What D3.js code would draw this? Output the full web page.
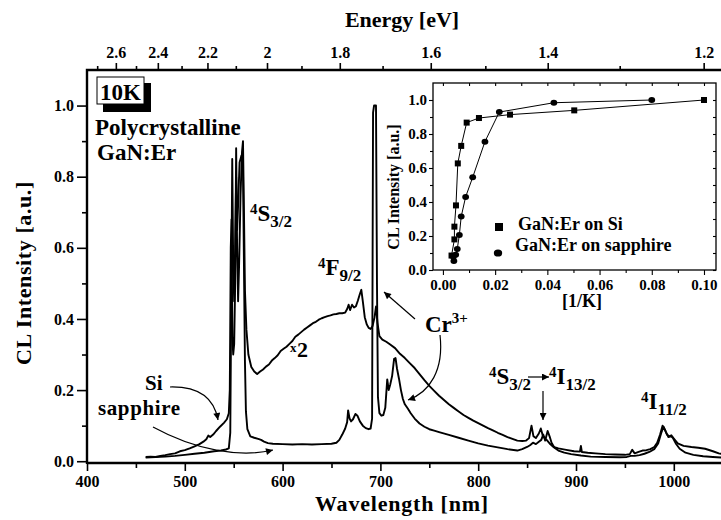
<!DOCTYPE html>
<html>
<head>
<meta charset="utf-8">
<script src="https://cdn.jsdelivr.net/npm/d3@7"></script>
<style>
  body { margin: 0; background: #fff; }
  svg { display: block; background: #fff; }
  svg text { font-family: "Liberation Serif", Tinos, "Times New Roman", "DejaVu Serif", serif; font-weight: 700; fill: #000; }
</style>
</head>
<body>
<svg id="chart" width="721" height="520"></svg>
<script>
'use strict';

// GaN:Er on Si, multiplied x2 (upper trace)
var siWave = [460, 465, 470, 475, 480, 485, 490, 495, 500, 505, 510, 515, 519, 522, 524, 526, 529, 532, 536, 540,
  543, 545, 546, 547, 547.8, 548.6, 549.5, 550.5, 551.5, 552.5, 553.5, 554.5, 555.5, 557, 558.5, 559.5, 560.5, 561.5, 563, 565,
  568, 571, 574, 577, 580, 583, 586, 589, 592, 595, 598, 601, 604, 607, 610, 613, 616, 619, 622, 625,
  628, 631, 634, 637, 640, 643, 646, 649, 652, 655, 658, 661, 664, 666, 667.5, 669, 671, 673, 675, 677,
  679, 680.5, 682, 684, 686, 688, 690, 692, 694, 695.5, 697, 699, 702, 706, 710, 715, 720, 725, 730, 735,
  740, 745, 750, 755, 760, 765, 770, 775, 780, 785, 790, 795, 800, 805, 810, 815, 820, 825, 830, 835,
  840, 845, 849, 852, 854.5, 856.5, 859, 862, 864, 866, 868, 870, 873, 877, 882, 890, 898, 904, 905, 906,
  912, 920, 930, 940, 950, 955, 957.5, 960, 964, 968, 972, 976, 980, 983, 986, 988.5, 991, 993, 995, 997.5,
  1000, 1004, 1010, 1018, 1025, 1032, 1040, 1046, 1050];
var siVal = [0.012, 0.013, 0.012, 0.015, 0.017, 0.020, 0.022, 0.028, 0.031, 0.036, 0.042, 0.048, 0.055, 0.062, 0.072, 0.068, 0.075, 0.085, 0.097, 0.108,
  0.118, 0.135, 0.20, 0.60, 0.68, 0.35, 0.30, 0.33, 0.50, 0.88, 0.60, 0.45, 0.55, 0.75, 0.87, 0.90, 0.70, 0.48, 0.37, 0.30,
  0.265, 0.252, 0.245, 0.252, 0.258, 0.266, 0.272, 0.283, 0.290, 0.298, 0.310, 0.316, 0.322, 0.330, 0.338, 0.350, 0.356, 0.363, 0.370, 0.376,
  0.382, 0.388, 0.392, 0.398, 0.402, 0.405, 0.408, 0.410, 0.413, 0.414, 0.416, 0.416, 0.418, 0.428, 0.440, 0.425, 0.440, 0.432, 0.436, 0.452,
  0.470, 0.482, 0.450, 0.405, 0.385, 0.375, 0.372, 0.380, 0.405, 0.435, 0.390, 0.352, 0.342, 0.336, 0.328, 0.318, 0.302, 0.290, 0.276, 0.262,
  0.245, 0.228, 0.212, 0.198, 0.184, 0.172, 0.160, 0.150, 0.140, 0.130, 0.122, 0.114, 0.107, 0.100, 0.093, 0.087, 0.080, 0.074, 0.068, 0.063,
  0.058, 0.057, 0.058, 0.065, 0.100, 0.070, 0.065, 0.078, 0.092, 0.072, 0.065, 0.060, 0.050, 0.040, 0.036, 0.032, 0.028, 0.027, 0.043, 0.026,
  0.024, 0.022, 0.020, 0.019, 0.018, 0.020, 0.032, 0.022, 0.026, 0.030, 0.031, 0.034, 0.040, 0.052, 0.075, 0.100, 0.088, 0.075, 0.070, 0.073,
  0.064, 0.050, 0.043, 0.040, 0.038, 0.035, 0.028, 0.022, 0.020];

// GaN:Er on sapphire (lower trace, with the Cr3+ ruby line)
var sapWave = [460, 470, 480, 490, 500, 510, 520, 530, 537, 542, 545, 546.5, 547.5, 548.5, 549.5, 550.5, 551.5, 552.5, 553.5, 554.5,
  556, 558, 559.5, 560.5, 561.5, 562.5, 564, 567, 571, 575, 578, 581, 585, 590, 600, 610, 620, 630, 640, 650,
  655, 658, 661, 664, 666, 667, 668.5, 670, 672, 674.5, 676.5, 679, 682, 685, 688, 690, 691.5, 692.5, 693.5, 695.5,
  696.5, 697.5, 699, 701, 703, 705, 707, 708.5, 710, 712, 714, 715.5, 717, 719, 721, 723, 725, 728, 731, 735,
  740, 745, 750, 755, 760, 770, 780, 790, 800, 810, 820, 830, 840, 845, 850, 853, 856, 859, 862, 864.5,
  866.5, 868.5, 871, 873, 875, 878, 882, 888, 895, 905, 915, 930, 945, 952, 956, 960, 965, 970, 975, 980,
  984, 987, 989.5, 992, 994.5, 997, 999, 1002, 1006, 1012, 1020, 1030, 1040, 1050];
var sapVal = [0.010, 0.012, 0.013, 0.015, 0.018, 0.021, 0.024, 0.028, 0.030, 0.033, 0.036, 0.08, 0.45, 0.85, 0.55, 0.45, 0.60, 0.80, 0.65, 0.72,
  0.84, 0.86, 0.82, 0.55, 0.28, 0.14, 0.090, 0.070, 0.066, 0.063, 0.060, 0.055, 0.051, 0.049, 0.048, 0.047, 0.048, 0.047, 0.048, 0.049,
  0.052, 0.060, 0.075, 0.092, 0.110, 0.143, 0.120, 0.112, 0.118, 0.133, 0.128, 0.112, 0.100, 0.093, 0.090, 0.092, 0.120, 0.98, 1.0, 1.0,
  0.50, 0.18, 0.135, 0.128, 0.130, 0.150, 0.230, 0.200, 0.215, 0.240, 0.288, 0.290, 0.260, 0.232, 0.200, 0.175, 0.160, 0.148, 0.135, 0.120,
  0.106, 0.097, 0.090, 0.086, 0.082, 0.074, 0.066, 0.058, 0.050, 0.044, 0.039, 0.034, 0.030, 0.034, 0.040, 0.045, 0.052, 0.048, 0.055, 0.060,
  0.075, 0.058, 0.085, 0.070, 0.052, 0.038, 0.030, 0.024, 0.020, 0.016, 0.013, 0.012, 0.011, 0.012, 0.015, 0.015, 0.017, 0.021, 0.026, 0.034,
  0.050, 0.078, 0.097, 0.082, 0.068, 0.070, 0.066, 0.050, 0.035, 0.024, 0.018, 0.014, 0.012, 0.010];

var wlMajor = [400, 500, 600, 700, 800, 900, 1000];
var wlMinor = [450, 550, 650, 750, 850, 950];
var intMajor = [0, 0.2, 0.4, 0.6, 0.8, 1.0];
var intMinor = [0.1, 0.3, 0.5, 0.7, 0.9];
var evMajor = [2.6, 2.4, 2.2, 2, 1.8, 1.6, 1.4, 1.2];
var evMinor = [2.7, 2.5, 2.3, 2.1, 1.9, 1.7, 1.5, 1.3];

// inset: normalized intensity vs 1/T
var insetSiX = [0.0033, 0.0044, 0.0044, 0.0050, 0.0057, 0.0070, 0.0091, 0.0138, 0.0257, 0.0503, 0.1];
var insetSiY = [0.085, 0.18, 0.255, 0.38, 0.627, 0.73, 0.867, 0.894, 0.914, 0.939, 1.0];
var insetSapX = [0.0042, 0.0040, 0.0049, 0.0055, 0.0063, 0.0070, 0.0087, 0.0114, 0.0161, 0.0216, 0.0425, 0.08];
var insetSapY = [0.053, 0.078, 0.09, 0.124, 0.206, 0.314, 0.43, 0.545, 0.755, 0.929, 0.984, 1.0];
var insetXMajor = [0, 0.02, 0.04, 0.06, 0.08, 0.1];
var insetXMinor = [0.01, 0.03, 0.05, 0.07, 0.09];
var insetYMajor = [0, 0.2, 0.4, 0.6, 0.8, 1.0];
var insetYMinor = [0.1, 0.3, 0.5, 0.7, 0.9];

var mLeft = 87, mRight = 721, mTop = 70, mBottom = 463;
var serif = '"Liberation Serif", Tinos, "Times New Roman", "DejaVu Serif", serif';

var svg = d3.select('#chart').attr('font-family', serif).attr('font-weight', 'bold');

var x = d3.scaleLinear().domain([400, 1050]).range([mLeft, 722.7]);
var y = d3.scaleLinear().domain([-0.005, 1.1]).range([mBottom, mTop]);
// top axis drawn against inverse energy
var xInvE = d3.scaleLinear().domain([1 / 2.7, 1 / 1.2]).range([-388 + 1310 / 2.7, -388 + 1310 / 1.2]);

var defs = svg.append('defs');
defs.append('clipPath').attr('id', 'plotClip')
  .append('rect').attr('x', mLeft).attr('y', mTop).attr('width', mRight - mLeft).attr('height', mBottom - mTop);
defs.append('marker')
  .attr('id', 'head')
  .attr('viewBox', '0 0 10 10')
  .attr('refX', 10).attr('refY', 5)
  .attr('markerWidth', 9).attr('markerHeight', 7)
  .attr('markerUnits', 'userSpaceOnUse')
  .attr('orient', 'auto')
  .append('path').attr('d', 'M0,0 L10,5 L0,10 Z').attr('fill', '#000');

function styleAxis(g, size) {
  g.select('.domain').remove();
  g.attr('font-family', serif).attr('font-size', null);
  g.selectAll('line').attr('stroke', '#000').attr('stroke-width', 1.6);
  g.selectAll('text').style('font-size', size + 'px').style('font-family', serif);
}

// bottom axis
svg.append('g').attr('transform', 'translate(0,' + mBottom + ')')
  .call(d3.axisBottom(x).tickValues(wlMajor).tickSize(8).tickPadding(5).tickFormat(d3.format('d')))
  .call(styleAxis, 16);
svg.append('g').attr('transform', 'translate(0,' + mBottom + ')')
  .call(d3.axisBottom(x).tickValues(wlMinor).tickSize(5).tickFormat(''))
  .call(styleAxis, 16);

// left axis
svg.append('g').attr('transform', 'translate(' + mLeft + ',0)')
  .call(d3.axisLeft(y).tickValues(intMajor).tickSize(10).tickPadding(3).tickFormat(d3.format('.1f')))
  .call(styleAxis, 16);
svg.append('g').attr('transform', 'translate(' + mLeft + ',0)')
  .call(d3.axisLeft(y).tickValues(intMinor).tickSize(5).tickFormat(''))
  .call(styleAxis, 16);

// top (energy) axis
svg.append('g').attr('transform', 'translate(0,' + mTop + ')')
  .call(d3.axisTop(xInvE).tickValues(evMajor.map(function (e) { return 1 / e; }))
    .tickSize(7).tickPadding(5)
    .tickFormat(function (d) { return d3.format('')(+(1 / d).toFixed(1)); }))
  .call(styleAxis, 16);
svg.append('g').attr('transform', 'translate(0,' + mTop + ')')
  .call(d3.axisTop(xInvE).tickValues(evMinor.map(function (e) { return 1 / e; })).tickSize(4).tickFormat(''))
  .call(styleAxis, 16);

// frame lines
svg.append('path')
  .attr('d', 'M' + mLeft + ',' + mBottom + 'L' + mRight + ',' + mBottom +
    'M' + mLeft + ',' + (mBottom + 1) + 'L' + mLeft + ',' + mTop + 'L' + mRight + ',' + mTop)
  .attr('fill', 'none').attr('stroke', '#000').attr('stroke-width', 2.4);

// axis titles
svg.append('text').attr('x', 402).attr('y', 27).attr('text-anchor', 'middle')
  .style('font-size', '22px').text('Energy [eV]');
svg.append('text').attr('x', 402).attr('y', 511).attr('text-anchor', 'middle')
  .style('font-size', '22px').style('letter-spacing', '0.8px').text('Wavelength [nm]');
svg.append('text').attr('transform', 'translate(31,273) rotate(-90)').attr('text-anchor', 'middle')
  .style('font-size', '22px').style('letter-spacing', '0.6px').text('CL Intensity [a.u.]');

// spectra
var line = d3.line()
  .x(function (d) { return x(d[0]); })
  .y(function (d) { return y(d[1]); });

var plot = svg.append('g').attr('clip-path', 'url(#plotClip)');
plot.append('path')
  .datum(d3.zip(siWave, siVal))
  .attr('d', line)
  .attr('fill', 'none').attr('stroke', '#000').attr('stroke-width', 1.9).attr('stroke-linejoin', 'round');
plot.append('path')
  .datum(d3.zip(sapWave, sapVal))
  .attr('d', line)
  .attr('fill', 'none').attr('stroke', '#000').attr('stroke-width', 1.9).attr('stroke-linejoin', 'round');

// 10K badge
svg.append('rect').attr('x', 103).attr('y', 83).attr('width', 48).attr('height', 29).attr('fill', '#000');
svg.append('rect').attr('x', 97).attr('y', 77).attr('width', 47).attr('height', 27)
  .attr('fill', '#fff').attr('stroke', '#000').attr('stroke-width', 1);
svg.append('text').attr('x', 120.5).attr('y', 100).attr('text-anchor', 'middle')
  .style('font-size', '23px').text('10K');

svg.append('text').attr('x', 95).attr('y', 135).style('font-size', '23px').text('Polycrystalline');
svg.append('text').attr('x', 97).attr('y', 160).style('font-size', '23px').text('GaN:Er');

function level(xp, yp, parts, size) {
  var t = svg.append('text').attr('x', xp).attr('y', yp).style('font-size', size + 'px');
  var shift = 0;
  parts.forEach(function (p) {
    var target = p[1] === 'sup' ? -7 : (p[1] === 'sub' ? 6 : 0);
    var fs = p[1] === 'sup' ? 15 : (p[1] === 'sub' ? 17 : size);
    t.append('tspan').attr('dy', target - shift).style('font-size', fs + 'px').text(p[0]);
    shift = target;
  });
  return t;
}

level(250, 221, [['4', 'sup'], ['S'], ['3/2', 'sub']], 23);
level(318, 275, [['4', 'sup'], ['F'], ['9/2', 'sub']], 23);
level(489, 384, [['4', 'sup'], ['S'], ['3/2', 'sub']], 23);
level(549, 384, [['4', 'sup'], ['I'], ['13/2', 'sub']], 23);
level(641, 409, [['4', 'sup'], ['I'], ['11/2', 'sub']], 23);

var cr = svg.append('text').attr('x', 425).attr('y', 332).style('font-size', '23px');
cr.append('tspan').text('Cr');
cr.append('tspan').attr('dy', -9).style('font-size', '15px').text('3+');

svg.append('text').attr('x', 290).attr('y', 352).style('font-size', '13px').text('x');
svg.append('text').attr('x', 297).attr('y', 357).style('font-size', '22px').text('2');

svg.append('text').attr('x', 145).attr('y', 390).style('font-size', '21px').text('Si');
svg.append('text').attr('x', 98).attr('y', 415).style('font-size', '21px').style('letter-spacing', '0.6px').text('sapphire');

// arrows
var arrows = [
  'M170,387 Q212,386 218,420',
  'M153,427 C195,450 240,458 273,450',
  'M415,319 L384,292',
  'M440,335 C444,370 430,392 408,400',
  'M543,391 L543,420',
  'M528,377 L549,377'
];
svg.selectAll('path.arrow')
  .data(arrows)
  .enter().append('path')
  .attr('class', 'arrow')
  .attr('d', function (d) { return d; })
  .attr('fill', 'none').attr('stroke', '#000').attr('stroke-width', 1.2)
  .attr('marker-end', 'url(#head)');

// ---- inset ----
var ix = d3.scaleLinear().domain([-0.0038, 0.1046]).range([433, 716]);
var iy = d3.scaleLinear().domain([0, 1.1]).range([270, 83]);

var inset = svg.append('g');
inset.append('rect').attr('x', 433).attr('y', 83).attr('width', 283).attr('height', 187)
  .attr('fill', '#fff').attr('stroke', '#000').attr('stroke-width', 1.3);

function styleInset(g) {
  g.select('.domain').remove();
  g.attr('font-family', serif).attr('font-size', null);
  g.selectAll('line').attr('stroke', '#000').attr('stroke-width', 1.1);
  g.selectAll('text').style('font-size', '15px').style('font-family', serif);
}

inset.append('g').attr('transform', 'translate(0,270)')
  .call(d3.axisBottom(ix).tickValues(insetXMajor).tickSize(5).tickPadding(4).tickFormat(d3.format('.2f')))
  .call(styleInset);
inset.append('g').attr('transform', 'translate(0,270)')
  .call(d3.axisBottom(ix).tickValues(insetXMinor).tickSize(3).tickFormat(''))
  .call(styleInset);
inset.append('g').attr('transform', 'translate(0,83)')
  .call(d3.axisBottom(ix).tickValues(insetXMajor.concat(insetXMinor)).tickSize(3).tickFormat(''))
  .call(styleInset);
inset.append('g').attr('transform', 'translate(433,0)')
  .call(d3.axisLeft(iy).tickValues(insetYMajor).tickSize(4).tickPadding(2).tickFormat(d3.format('.1f')))
  .call(styleInset);
inset.append('g').attr('transform', 'translate(433,0)')
  .call(d3.axisLeft(iy).tickValues(insetYMinor).tickSize(3).tickFormat(''))
  .call(styleInset);
inset.append('g').attr('transform', 'translate(716,0)')
  .call(d3.axisLeft(iy).tickValues(insetYMajor.concat(insetYMinor)).tickSize(3).tickFormat(''))
  .call(styleInset);

inset.append('text').attr('x', 582).attr('y', 307).attr('text-anchor', 'middle')
  .style('font-size', '18px').text('[1/K]');
inset.append('text').attr('transform', 'translate(399,187) rotate(-90)').attr('text-anchor', 'middle')
  .style('font-size', '16px').text('CL Intensity [a.u.]');

var iline = d3.line()
  .x(function (d) { return ix(d[0]); })
  .y(function (d) { return iy(d[1]); });

inset.append('path').datum(d3.zip(insetSiX, insetSiY)).attr('d', iline)
  .attr('fill', 'none').attr('stroke', '#000').attr('stroke-width', 1);
inset.append('path').datum(d3.zip(insetSapX, insetSapY)).attr('d', iline)
  .attr('fill', 'none').attr('stroke', '#000').attr('stroke-width', 1);

inset.selectAll('rect.si')
  .data(d3.zip(insetSiX, insetSiY))
  .enter().append('rect')
  .attr('class', 'si')
  .attr('x', function (d) { return ix(d[0]) - 3; })
  .attr('y', function (d) { return iy(d[1]) - 3; })
  .attr('width', 6).attr('height', 6)
  .attr('fill', '#000');
inset.selectAll('ellipse.sap')
  .data(d3.zip(insetSapX, insetSapY))
  .enter().append('ellipse')
  .attr('class', 'sap')
  .attr('cx', function (d) { return ix(d[0]); })
  .attr('cy', function (d) { return iy(d[1]); })
  .attr('rx', 3.4).attr('ry', 3)
  .attr('fill', '#000');

// inset legend
inset.append('rect').attr('x', 495).attr('y', 223).attr('width', 8).attr('height', 8).attr('fill', '#000');
inset.append('text').attr('x', 518).attr('y', 230).style('font-size', '18px').text('GaN:Er on Si');
inset.append('ellipse').attr('cx', 498).attr('cy', 253).attr('rx', 4.2).attr('ry', 3.6).attr('fill', '#000');
inset.append('text').attr('x', 515).attr('y', 251).style('font-size', '18px').text('GaN:Er on sapphire');
</script>
</body>
</html>
